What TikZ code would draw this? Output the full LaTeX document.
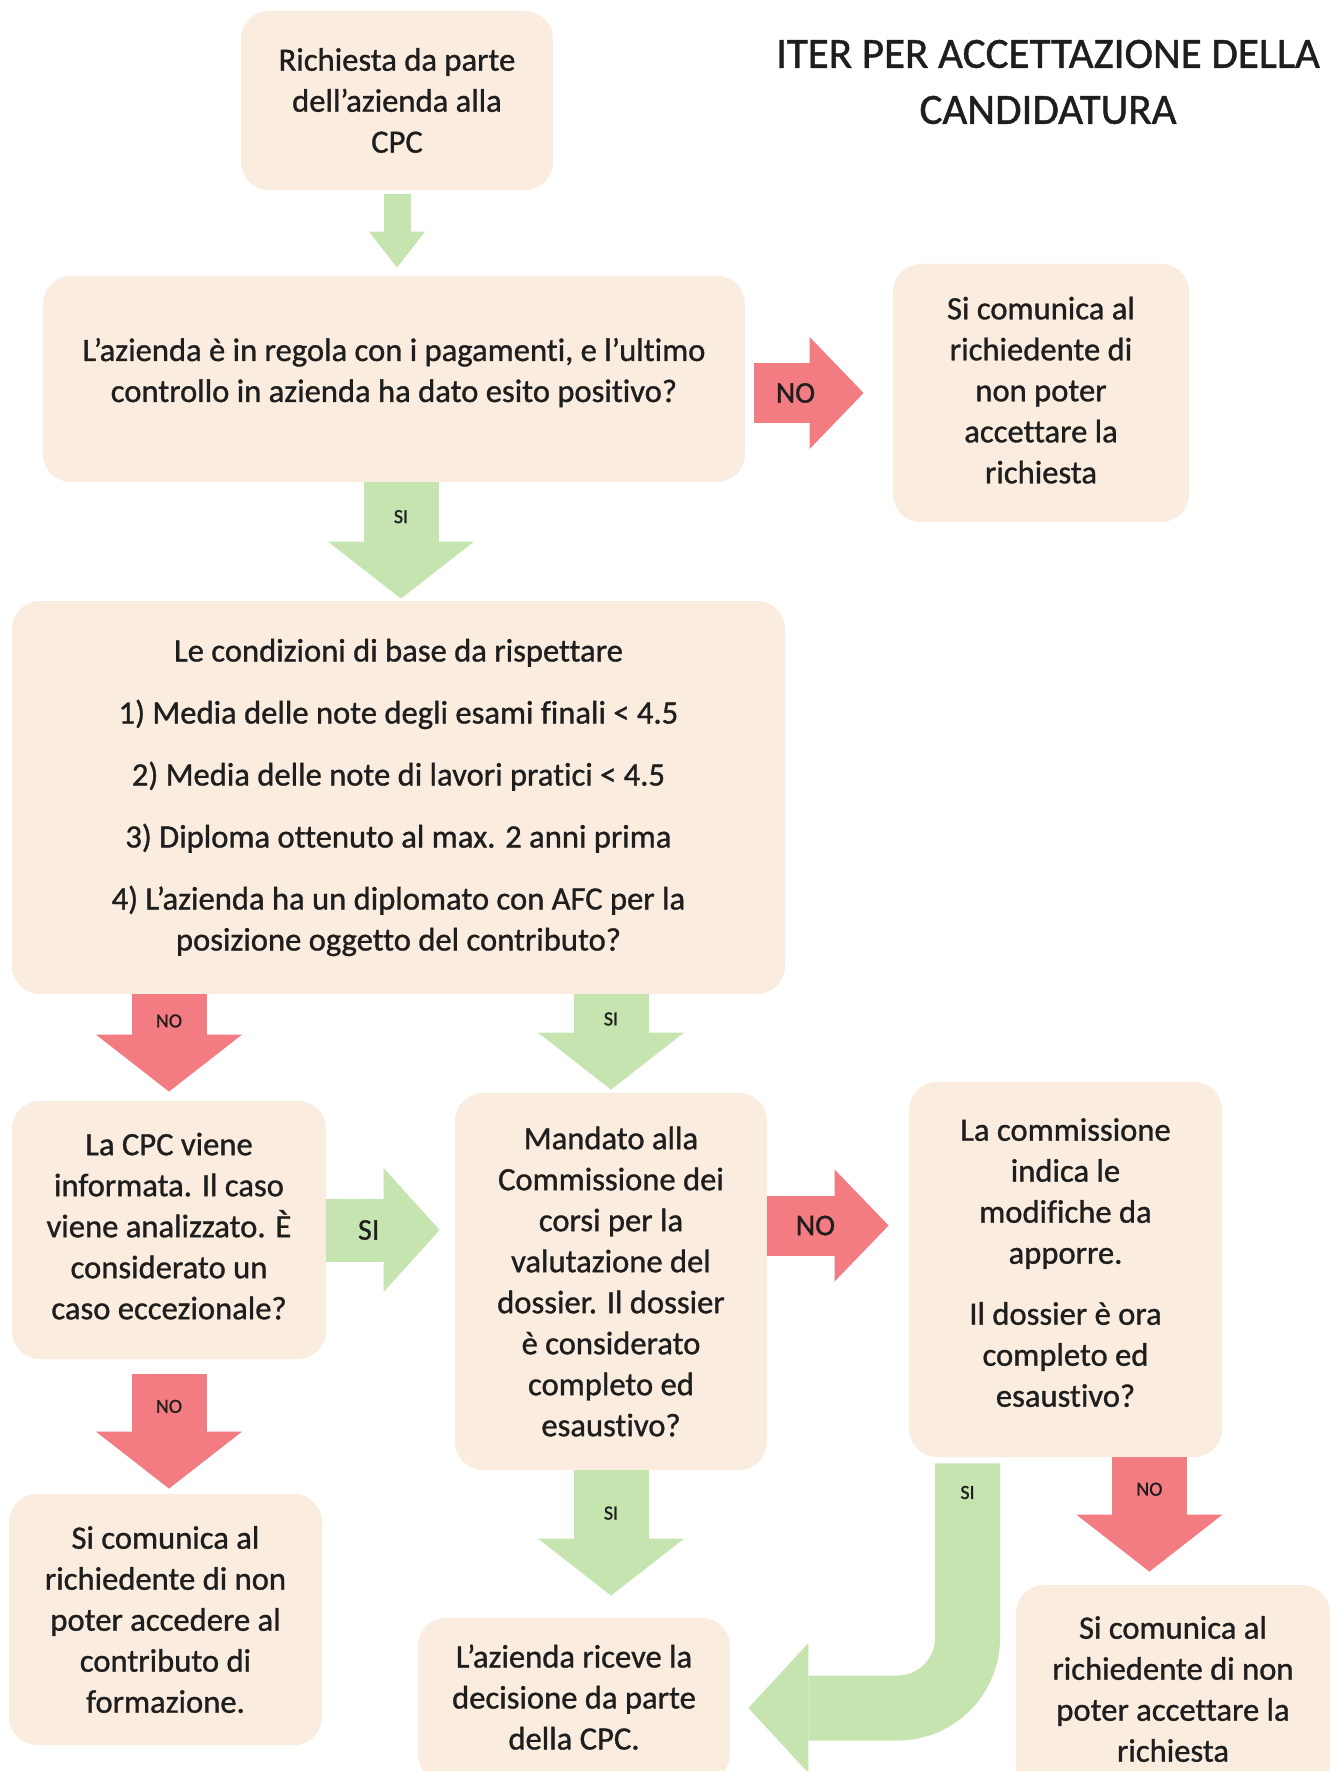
\documentclass[tikz,border=0pt]{standalone}
\usepackage{fontspec}
\setmainfont{Carlito}[FakeBold=1,Ligatures=NoCommon]
\usetikzlibrary{arrows.meta,calc}
\definecolor{boxcol}{RGB}{250,236,222}
\definecolor{sicol}{RGB}{197,228,176}
\definecolor{nocol}{RGB}{242,124,129}
\definecolor{textcol}{RGB}{30,30,30}
% spazio invisibile sotto l'ultima riga (alza il testo nel riquadro)
\newcommand{\alzatesto}[1]{\rule[-#1]{0pt}{0pt}}
\tikzset{
  box/.style={
    rectangle,
    rounded corners=14pt,
    fill=boxcol,
    align=center,
    inner sep=0pt,
    text=textcol,
    font=\fontsize{16.3}{20.5}\selectfont
  },
  titolo/.style={align=center,text=textcol,font=\fontsize{21.5}{28}\selectfont},
  tag/.style={text=textcol,font=\fontsize{10}{11}\selectfont},
  bigtag/.style={text=textcol,font=\fontsize{15}{16}\selectfont},
  freccia/.style n args={4}{
    draw=#1,
    line width=#2,
    -{Triangle[width=#3,length=#4,line width=0pt]}
  },
  giu/.style={freccia={#1}{37.5pt}{73pt}{28.5pt}},
  lato/.style={freccia={#1}{30pt}{56pt}{27pt}},
}

\begin{document}
\begin{tikzpicture}[x=0.5pt,y=-0.5pt]
  \fill[white] (0,0) rectangle (1335,1771);
  \clip (0,0) rectangle (1335,1771);

  \node[titolo] (title) at (1048,82) {ITER PER ACCETTAZIONE DELLA\\CANDIDATURA};

  \node[box,minimum width=156pt,minimum height=89.5pt] (req) at (397,100.5)
    {Richiesta da parte\\dell’azienda alla\\CPC};
  \node[box,minimum width=351pt,minimum height=103pt] (regola) at (394,379)
    {L’azienda è in regola con i pagamenti, e l’ultimo\\controllo in azienda ha dato esito positivo?\alzatesto{9pt}};
  \node[box,minimum width=148pt,minimum height=129pt] (rif1) at (1041,393)
    {Si comunica al\\richiedente di\\non poter\\accettare la\\richiesta\alzatesto{3pt}};
  \node[box,minimum width=386.5pt,minimum height=196.5pt] (cond) at (398.5,797.5)
    {Le condizioni di base da rispettare\\[10.5pt]
     1) Media delle note degli esami finali < 4.5\\[10.5pt]
     2) Media delle note di lavori pratici < 4.5\\[10.5pt]
     3) Diploma ottenuto al max. 2 anni prima\\[10.5pt]
     4) L’azienda ha un diplomato con AFC per la\\posizione oggetto del contributo?};
  \node[box,minimum width=157pt,minimum height=129pt] (cpc) at (169,1230)
    {La CPC viene\\informata. Il caso\\viene analizzato. È\\considerato un\\caso eccezionale?\alzatesto{4pt}};
  \node[box,minimum width=156pt,minimum height=188.5pt] (mandato) at (611,1281.5)
    {Mandato alla\\Commissione dei\\corsi per la\\valutazione del\\dossier. Il dossier\\è considerato\\completo ed\\esaustivo?};
  \node[box,minimum width=156.5pt,minimum height=187.5pt] (commiss) at (1065.5,1269.5)
    {La commissione\\indica le\\modifiche da\\apporre.\\[10pt]Il dossier è ora\\completo ed\\esaustivo?\alzatesto{7pt}};
  \node[box,minimum width=156.5pt,minimum height=125.5pt] (nocontr) at (165.5,1619.5)
    {Si comunica al\\richiedente di non\\poter accedere al\\contributo di\\formazione.};
  \node[box,minimum width=156pt,minimum height=82pt] (decisione) at (574,1700)
    {L’azienda riceve la\\decisione da parte\\della CPC.\alzatesto{3pt}};
  \node[box,minimum width=157pt,minimum height=104pt] (rif2) at (1173,1689)
    {Si comunica al\\richiedente di non\\poter accettare la\\richiesta};

  % frecce
  \draw[freccia={sicol}{13.5pt}{28pt}{18pt},shorten <=2pt,shorten >=4pt]
    (req.south) -- (req.south |- regola.north);
  \draw[lato=nocol,shorten <=4.5pt,shorten >=14.5pt]
    (regola.east |- rif1.west) -- (rif1.west) node[bigtag,pos=.34] {NO};
  \coordinate (siA) at ($(regola.south)+(7,0)$);
  \draw[giu=sicol,shorten >=1pt]
    (siA) -- (siA |- cond.north) node[tag,pos=.29] {SI};
  \draw[giu=nocol,shorten >=4.5pt]
    (cond.south -| cpc.north) -- (cpc.north) node[tag,pos=.25] {NO};
  \draw[giu=sicol,shorten >=1.5pt]
    (cond.south -| mandato.north) -- (mandato.north) node[tag,pos=.25] {SI};
  \draw[freccia={sicol}{31.5pt}{62pt}{28pt},shorten >=7.5pt]
    (cpc.east) -- (cpc.east -| mandato.west) node[bigtag,pos=.33] {SI};
  \coordinate (noB) at ($(mandato.east)+(0,-56)$);
  \draw[lato=nocol,shorten >=10pt]
    (noB) -- (noB -| commiss.west) node[bigtag,pos=.34] {NO};
  \draw[giu=nocol,shorten <=7.5pt,shorten >=2.5pt]
    (cpc.south) -- (cpc.south |- nocontr.north) node[tag,pos=.35] {NO};
  \draw[giu=sicol,shorten >=11pt]
    (mandato.south) -- (mandato.south |- decisione.north) node[tag,pos=.29] {SI};
  \coordinate (noC) at ($(commiss.south east)+(-73,0)$);
  \draw[giu=nocol,shorten >=6.5pt]
    (noC) -- (noC |- rif2.north) node[tag,pos=.25] {NO};
  \coordinate (siE) at ($(commiss.south)+(-98,0)$);
  \coordinate (siF) at ($(decisione.east)+(0,8)$);
  \draw[freccia={sicol}{32.5pt}{65pt}{30pt},rounded corners=35pt,shorten <=3pt,shorten >=9pt]
    (siE) |- (siF) node[tag,pos=.07] {SI};
\end{tikzpicture}
\end{document}
